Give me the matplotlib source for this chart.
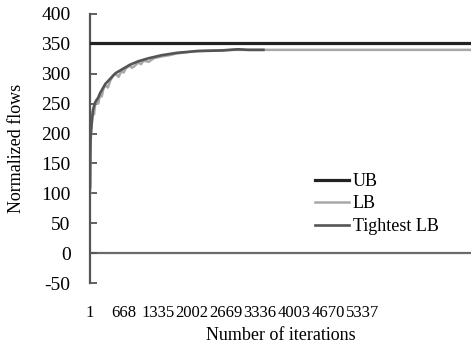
import matplotlib
matplotlib.use("Agg")
import matplotlib.pyplot as plt

plt.rcParams['font.family'] = ['Liberation Serif', 'DejaVu Serif']
plt.rcParams['axes.unicode_minus'] = False

# upper bound (constant)
ub_value = 352

# LB per iteration (noisy)
lb_iter = [1, 5, 10, 20, 40, 60, 80, 100, 130, 160, 200, 230, 260, 300, 350, 400, 450,
           500, 560, 620, 660, 700, 780, 820, 860, 950, 1000, 1050, 1150, 1250, 1400,
           1550, 1700, 1900, 2100, 2400, 2800, 3200, 4000, 5000, 6000, 7470]
lb_vals = [100, 145, 180, 198, 220, 238, 232, 249, 257, 250, 266, 262, 274, 281, 277,
           289, 297, 300, 295, 305, 302, 309, 314, 310, 312, 319, 316, 322, 320, 326,
           329, 331, 334, 336, 338, 339, 340, 340, 340, 340, 340, 340]

# tightest LB so far
tlb_iter = [1, 5, 10, 20, 40, 60, 100, 160, 200, 300, 400, 500, 620, 780, 950, 1150,
            1400, 1700, 2100, 2600, 2900, 3100, 3400]
tlb_vals = [110, 160, 190, 205, 225, 240, 252, 260, 268, 283, 292, 301, 307, 315, 321,
            326, 331, 335, 338, 339, 341, 340, 340]

xticks = [1, 668, 1335, 2002, 2669, 3336, 4003, 4670, 5337]
yticks = [-50, 0, 50, 100, 150, 200, 250, 300, 350, 400]

fig = plt.figure(figsize=(4.71, 3.61), dpi=100)
ax = fig.add_axes([90/471, 78/361, 1 - 90/471, (361 - 78 - 14)/361])

ax.plot(lb_iter, lb_vals, color="#a8a8a8", lw=1.8, label="LB", zorder=2)
ax.plot(tlb_iter, tlb_vals, color="#555555", lw=1.9, label="Tightest LB", zorder=3)
ax.axhline(ub_value, color="#222222", lw=2.3, label="UB", zorder=4)
ax.axhline(0, color="#6a6a6a", lw=1.6, zorder=1)

ax.set_xlim(0, 7470)
ax.set_ylim(-50, 400)
ax.set_yticks(yticks)
ax.set_xticks(xticks)
ax.set_xticklabels([str(t) for t in xticks])

for s in ["top", "right", "bottom"]:
    ax.spines[s].set_visible(False)
ax.spines["left"].set_color("#555555")
ax.spines["left"].set_linewidth(1.6)

ax.tick_params(axis="y", direction="in", length=5, width=1.3, color="#555555",
               pad=14, labelsize=14)
ax.tick_params(axis="x", length=0, pad=16, labelsize=12)

ax.set_xlabel("Number of iterations", fontsize=13, labelpad=4)
ax.set_ylabel("Normalized flows", fontsize=13)
ax.yaxis.set_label_coords(-0.17, 0.5)

h, l = ax.get_legend_handles_labels()
order = [l.index("UB"), l.index("LB"), l.index("Tightest LB")]
ax.legend([h[i] for i in order], [l[i] for i in order], loc="upper left",
          bbox_to_anchor=(315/471, 1 - 173/361), bbox_transform=fig.transFigure,
          frameon=False, fontsize=13, borderpad=0, borderaxespad=0,
          labelspacing=0.3, handlelength=1.9, handletextpad=0.2)

fig.savefig("out.png", dpi=100)
